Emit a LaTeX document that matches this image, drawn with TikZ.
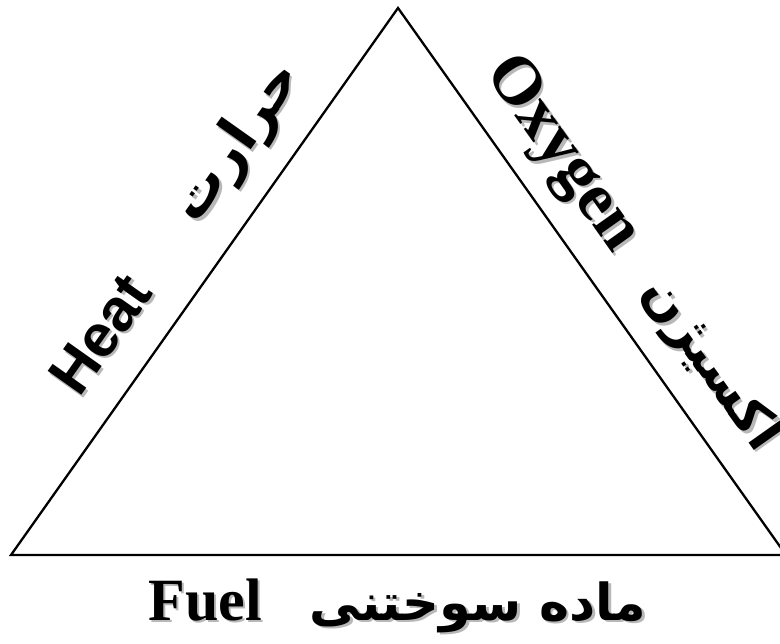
\documentclass[tikz,border=0pt]{standalone}
\usepackage{fontspec}
\setmainfont{Liberation Serif}
\newfontfamily\sansfnt{Liberation Sans}
\newfontfamily\arabicfont[Script=Arabic]{DejaVu Sans}
\TeXXeTstate=1
\begin{document}
\begin{tikzpicture}[x=1pt,y=-1pt,
  side/.style={line width=2.3pt,line join=miter},
  lbl/.style={inner sep=0pt,text=black},
  shd/.style={inner sep=0pt,text=black!28}]
\useasboundingbox (0,0) rectangle (780,644);
\coordinate (A) at (398,8);
\coordinate (B) at (11,555);
\coordinate (C) at (786,555);
\draw[side] (B) -- (A) -- (C) -- cycle;
% Heat
\node[shd,rotate=54.7] (heats) at (102.5,336.5) {\sansfnt\bfseries\fontsize{60}{60}\selectfont Heat};
\node[lbl,rotate=54.7] (heat) at (100,334) {\sansfnt\bfseries\fontsize{60}{60}\selectfont Heat};
% Haraarat
\node[shd,rotate=54.7] (hars) at (240.5,145.5) {\arabicfont\bfseries\fontsize{56}{56}\selectfont\beginR حرارت\endR};
\node[lbl,rotate=54.7] (har) at (238,143) {\arabicfont\bfseries\fontsize{56}{56}\selectfont\beginR حرارت\endR};
% Oxygen
\node[shd,rotate=-54.7] (oxys) at (563.5,157.5) {\bfseries\fontsize{68}{68}\selectfont Oxygen};
\node[lbl,rotate=-54.7] (oxy) at (561,155) {\bfseries\fontsize{68}{68}\selectfont Oxygen};
% Oxygen arabic
\node[shd,rotate=-54.7] (oxfs) at (712.5,367.5) {\arabicfont\bfseries\fontsize{52}{52}\selectfont\beginR اکسیژن\endR};
\node[lbl,rotate=-54.7] (oxf) at (710,365) {\arabicfont\bfseries\fontsize{52}{52}\selectfont\beginR اکسیژن\endR};
% Fuel
\node[shd,anchor=base] (fuels) at (207.5,622.5) {\bfseries\fontsize{60}{60}\selectfont Fuel};
\node[lbl,anchor=base] (fuel) at (205,620) {\bfseries\fontsize{60}{60}\selectfont Fuel};
\node[shd,anchor=base] (sukhs) at (480.5,622.5) {\arabicfont\bfseries\fontsize{51}{51}\selectfont\beginR ماده سوختنی\endR};
\node[lbl,anchor=base] (sukh) at (478,620) {\arabicfont\bfseries\fontsize{51}{51}\selectfont\beginR ماده سوختنی\endR};
\end{tikzpicture}
\end{document}
